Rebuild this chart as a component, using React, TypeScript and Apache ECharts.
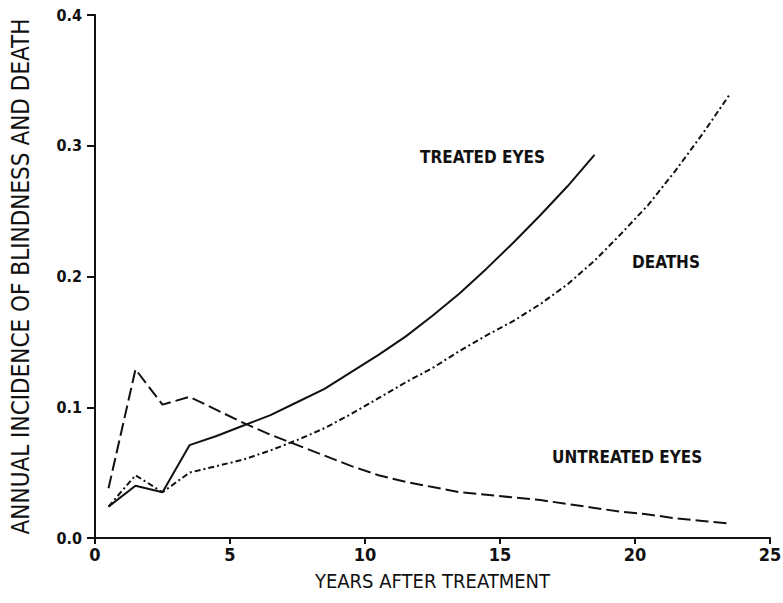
import React, { useEffect, useRef } from "react";
import * as echarts from "echarts";

const years = [0.5, 1.5, 2.5, 3.5, 4.5, 5.5, 6.5, 7.5, 8.5, 9.5, 10.5, 11.5, 12.5, 13.5, 14.5, 15.5, 16.5, 17.5, 18.5, 19.5, 20.5, 21.5, 22.5, 23.5];
const treatedEyes = [0.024, 0.040, 0.035, 0.071, 0.078, 0.086, 0.094, 0.104, 0.114, 0.127, 0.140, 0.154, 0.170, 0.187, 0.206, 0.226, 0.247, 0.269, 0.293];
const deaths = [0.024, 0.048, 0.035, 0.050, 0.055, 0.060, 0.067, 0.075, 0.084, 0.095, 0.107, 0.119, 0.130, 0.143, 0.155, 0.166, 0.179, 0.194, 0.212, 0.233, 0.255, 0.281, 0.309, 0.339];
const untreatedEyes = [0.038, 0.129, 0.102, 0.108, 0.098, 0.088, 0.079, 0.071, 0.063, 0.055, 0.048, 0.043, 0.039, 0.035, 0.033, 0.031, 0.029, 0.026, 0.023, 0.020, 0.018, 0.015, 0.013, 0.011];
const seriesNames = ["TREATED EYES", "DEATHS", "UNTREATED EYES"];
const xTitle = "YEARS AFTER TREATMENT";
const yTitle = "ANNUAL INCIDENCE OF BLINDNESS AND DEATH";

const FONT = "'DejaVu Sans Condensed', 'DejaVu Sans', sans-serif";

function pairs(vals: number[]) {
  return vals.map((v, i) => [years[i], v]);
}

export default function App() {
  const ref = useRef<HTMLDivElement>(null);
  useEffect(() => {
    if (!ref.current) return;
    const chart = echarts.init(ref.current, null, { renderer: "svg" });
    const lineBase = { color: "#111", width: 2 };
    chart.setOption({
      animation: false,
      backgroundColor: "#fff",
      grid: { left: 95, right: 13, top: 15, bottom: 65, outerBoundsMode: "none", containLabel: false },
      xAxis: {
        type: "value",
        min: 0,
        max: 25,
        interval: 5,
        name: xTitle,
        nameLocation: "middle",
        nameGap: 33,
        nameTextStyle: { fontFamily: FONT, fontSize: 20, color: "#111" },
        axisLine: { show: true, onZero: false, lineStyle: { color: "#111", width: 2 } },
        axisTick: { show: true, length: 6, lineStyle: { color: "#111", width: 2 } },
        axisLabel: { fontFamily: FONT, fontSize: 18, fontWeight: "bold", color: "#111", margin: 7 },
        splitLine: { show: false },
      },
      yAxis: {
        type: "value",
        min: 0,
        max: 0.4,
        interval: 0.1,
        name: yTitle,
        nameLocation: "middle",
        nameGap: 62,
        nameRotate: 90,
        nameTextStyle: { fontFamily: FONT, fontSize: 24, color: "#111" },
        axisLine: { show: true, lineStyle: { color: "#111", width: 2 } },
        axisTick: { show: true, length: 8, lineStyle: { color: "#111", width: 2 } },
        axisLabel: {
          fontFamily: FONT,
          fontSize: 16,
          fontWeight: "bold",
          color: "#111",
          margin: 13,
          formatter: (v: number) => v.toFixed(1),
        },
        splitLine: { show: false },
      },
      series: [
        {
          name: seriesNames[0],
          type: "line",
          data: pairs(treatedEyes),
          symbol: "none",
          smooth: false,
          lineStyle: { ...lineBase, type: "solid" },
        },
        {
          name: seriesNames[1],
          type: "line",
          data: pairs(deaths),
          symbol: "none",
          smooth: false,
          lineStyle: { ...lineBase, type: [6, 3, 2, 3] },
        },
        {
          name: seriesNames[2],
          type: "line",
          data: pairs(untreatedEyes),
          symbol: "none",
          smooth: false,
          lineStyle: { ...lineBase, type: [13, 5] },
        },
      ],
      graphic: [
        { type: "text", left: 420, top: 148, style: { text: seriesNames[0], font: `bold 17px ${FONT}`, fill: "#111" } },
        { type: "text", left: 632, top: 253, style: { text: seriesNames[1], font: `bold 17px ${FONT}`, fill: "#111" } },
        { type: "text", left: 552, top: 448, style: { text: seriesNames[2], font: `bold 17px ${FONT}`, fill: "#111" } },
      ],
    });
    return () => chart.dispose();
  }, []);
  return (
    <div
      ref={ref}
      style={{ position: "fixed", left: 0, top: 0, width: 783, height: 603, background: "#fff" }}
    />
  );
}
